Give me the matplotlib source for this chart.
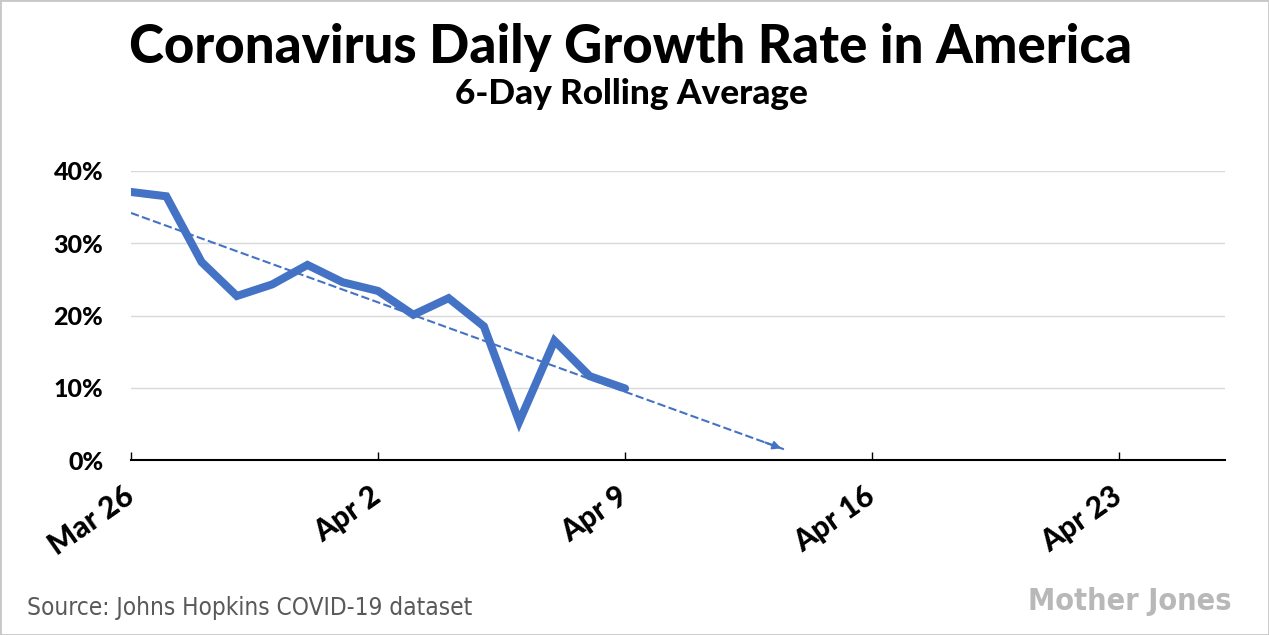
import numpy as np
import matplotlib
matplotlib.use("Agg")
import matplotlib.pyplot as plt
from matplotlib.patches import Rectangle

# days since Mar 26, daily growth rate (%) - 6-day rolling average
days = np.arange(15)
growth = [37.1, 36.5, 27.4, 22.7, 24.3, 27.0, 24.6, 23.4, 20.1, 22.4, 18.5, 5.3, 16.5, 11.6, 9.9]
tick_days = [0, 7, 14, 21, 28]
tick_labels = ["Mar 26", "Apr 2", "Apr 9", "Apr 16", "Apr 23"]
y_ticks = [0, 10, 20, 30, 40]
trend_end = 18.5

BLUE = "#4472C4"
TITLE_FONT = ["Lato", "DejaVu Sans"]

fig = plt.figure(figsize=(12.69, 6.35), dpi=100)
ax = fig.add_axes([131 / 1269, 1 - 460 / 635, (1225 - 131) / 1269, (460 - 171) / 635])

# data line
ax.plot(days, growth, color=BLUE, lw=5.8, solid_capstyle="round", solid_joinstyle="miter", zorder=3)

# linear trend, extended with arrow
slope, icpt = np.polyfit(days, growth, 1)
xt = np.array([0, trend_end])
ax.plot(xt, icpt + slope * xt, color=BLUE, lw=1.5, ls=(0, (4, 1.6)), zorder=2)
ax.annotate("", xy=(trend_end, icpt + slope * trend_end),
            xytext=(trend_end - 0.6, icpt + slope * (trend_end - 0.6)),
            arrowprops=dict(arrowstyle="-|>", color=BLUE, lw=1.5, mutation_scale=12))

ax.set_xlim(0, 31)
ax.set_ylim(0, 40)
ax.set_yticks(y_ticks)
ax.set_yticklabels([f"{v}%" for v in y_ticks], fontsize=18, fontweight="black", family=TITLE_FONT)
ax.set_xticks(tick_days)
ax.set_xticklabels(tick_labels, rotation=35, ha="right", va="center", rotation_mode="anchor",
                   fontsize=21.5, fontweight="black", family=TITLE_FONT)
ax.tick_params(axis="y", length=0, pad=20)
ax.tick_params(axis="x", direction="in", length=6, width=1, color="black", pad=24)
ax.grid(axis="y", color="#d9d9d9", lw=1)
ax.set_axisbelow(True)
for s in ["top", "right", "left"]:
    ax.spines[s].set_visible(False)
ax.spines["bottom"].set_linewidth(1.5)

fig.text(631 / 1269, 1 - 47 / 635, "Coronavirus Daily Growth Rate in America", ha="center", va="center",
         fontsize=38, fontweight="black", family=TITLE_FONT)
fig.text(631 / 1269, 1 - 94 / 635, "6-Day Rolling Average", ha="center", va="center",
         fontsize=25.3, fontweight="black", family=TITLE_FONT)
fig.text(27 / 1269, 1 - 608 / 635, "Source: Johns Hopkins COVID-19 dataset", ha="left", va="center",
         fontsize=17.5, color="#595959", fontstretch="condensed")
fig.text(1232 / 1269, 1 - 602 / 635, "Mother Jones", ha="right", va="center",
         fontsize=22, fontweight="bold", color="#b8b8b8", fontstretch="condensed")

fig.patches.append(Rectangle((0, 0), 1, 1, transform=fig.transFigure, fill=False,
                             edgecolor="#c8c8c8", lw=2))

fig.savefig("out.png", dpi=100)
